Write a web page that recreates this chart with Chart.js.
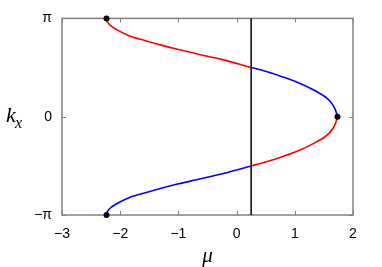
<!DOCTYPE html>
<html><head><meta charset="utf-8">
<script src="https://cdn.jsdelivr.net/npm/chart.js@4/dist/chart.umd.min.js"></script>
<style>html,body{margin:0;padding:0;background:#fff}</style>
</head><body>
<canvas id="c" width="382" height="267"></canvas>
<script>
const PI = Math.PI;
// upper branch, left part (red): mu values and k values
const upperRedMu = [-2.235, -2.227, -2.211, -2.160, -2.077, -1.850, -1.565, -1.280, -0.997, -0.712, -0.427, -0.212, 0.25];
const upperRedK  = [PI, 3.060, 3.006, 2.902, 2.800, 2.590, 2.430, 2.280, 2.145, 2.022, 1.902, 1.808, 1.575];
// upper branch, right part (blue)
const upperBlueMu = [0.25, 0.512, 0.795, 1.080, 1.365, 1.592, 1.695, 1.734];
const upperBlueK  = [1.575, 1.443, 1.270, 1.070, 0.812, 0.524, 0.236, 0];
// lower branch, right part (red)
const lowerRedMu = [0.25, 0.512, 0.795, 1.080, 1.365, 1.592, 1.695, 1.734];
const lowerRedK  = [-1.575, -1.443, -1.270, -1.070, -0.812, -0.524, -0.236, 0];
// lower branch, left part (blue)
const lowerBlueMu = [-2.235, -2.227, -2.211, -2.160, -2.077, -1.850, -1.565, -1.280, -0.997, -0.712, -0.427, -0.212, 0.25];
const lowerBlueK  = [-PI, -3.060, -3.006, -2.902, -2.800, -2.590, -2.430, -2.280, -2.145, -2.022, -1.902, -1.808, -1.575];
// marked points
const dotMu = [-2.235, 1.734, -2.235];
const dotK  = [PI, 0, -PI];
// vertical line position
const lineMu = 0.25;
// axes
const xMin = -3, xMax = 2;
const xTickValues = [-3, -2, -1, 0, 1, 2];
const yTickValues = [-PI, 0, PI];
const yTickLabels = ['\u2212\u03c0', '0', '\u03c0'];

const pts = (xs, ys) => xs.map((x, i) => ({x, y: ys[i]}));

const frame = {
  id: 'frame',
  beforeDatasetsDraw(chart) {
    const {ctx, chartArea: a, scales: {x, y}} = chart;
    ctx.save();
    ctx.strokeStyle = '#808080';
    ctx.lineWidth = 1.5;
    ctx.strokeRect(a.left, a.top, a.right - a.left, a.bottom - a.top);
    ctx.lineWidth = 1;
    ctx.beginPath();
    xTickValues.forEach(v => {
      const px = Math.round(x.getPixelForValue(v)) + 0.5;
      ctx.moveTo(px, a.bottom); ctx.lineTo(px, a.bottom - 4);
      ctx.moveTo(px, a.top); ctx.lineTo(px, a.top + 4);
    });
    yTickValues.forEach(v => {
      const py = Math.round(y.getPixelForValue(v)) + 0.5;
      ctx.moveTo(a.left, py); ctx.lineTo(a.left + 4, py);
      ctx.moveTo(a.right, py); ctx.lineTo(a.right - 4, py);
    });
    ctx.stroke();
    ctx.restore();
  },
  afterDraw(chart) {
    const {ctx, chartArea: a} = chart;
    ctx.save();
    ctx.fillStyle = '#000';
    ctx.textBaseline = 'alphabetic';
    ctx.font = 'italic 22px "Liberation Serif"';
    ctx.textAlign = 'left';
    ctx.fillText('k', 6, 122);
    ctx.font = 'italic 16px "Liberation Serif"';
    ctx.fillText('x', 15, 128);
    ctx.font = 'italic 21px "Liberation Serif"';
    ctx.textAlign = 'center';
    ctx.fillText('\u03bc', (a.left + a.right) / 2, 262);
    ctx.restore();
  }
};

const curve = (xs, ys, color) => ({
  data: pts(xs, ys), showLine: true, borderColor: color, borderWidth: 1.6,
  pointRadius: 0, cubicInterpolationMode: 'monotone'
});

new Chart(document.getElementById('c'), {
  type: 'scatter',
  data: {
    datasets: [
      {data: pts(dotMu, dotK), pointRadius: 3, pointBackgroundColor: '#000', pointBorderWidth: 0, showLine: false, clip: false},
      {data: [{x: lineMu, y: -PI}, {x: lineMu, y: PI}], showLine: true, borderColor: '#000', borderWidth: 1.5, pointRadius: 0, clip: false},
      curve(upperRedMu, upperRedK, '#ff0000'),
      curve(upperBlueMu, upperBlueK, '#0000ff'),
      curve(lowerRedMu, lowerRedK, '#ff0000'),
      curve(lowerBlueMu, lowerBlueK, '#0000ff')
    ]
  },
  options: {
    responsive: false,
    animation: false,
    devicePixelRatio: 1,
    layout: {padding: {top: 16, right: 29, left: 0, bottom: 0}},
    plugins: {legend: {display: false}, tooltip: {enabled: false}},
    scales: {
      x: {
        type: 'linear', min: xMin, max: xMax,
        afterBuildTicks: s => { s.ticks = xTickValues.map(v => ({value: v})); },
        afterFit: s => { s.height = 52; },
        grid: {display: false, drawTicks: false},
        border: {display: false},
        ticks: {
          padding: 11, color: '#000', maxRotation: 0,
          font: {family: '"Liberation Sans"', size: 14},
          callback: v => v < 0 ? '\u2212' + Math.abs(v) : String(v)
        }
      },
      y: {
        type: 'linear', min: -PI, max: PI,
        afterBuildTicks: s => { s.ticks = yTickValues.map(v => ({value: v})); },
        afterFit: s => { s.width = 62; },
        grid: {display: false, drawTicks: false},
        border: {display: false},
        ticks: {
          padding: 10, color: '#000',
          font: {family: '"Liberation Sans"', size: 14},
          callback: (v, i) => yTickLabels[i]
        }
      }
    }
  },
  plugins: [frame]
});
</script>
</body></html>
